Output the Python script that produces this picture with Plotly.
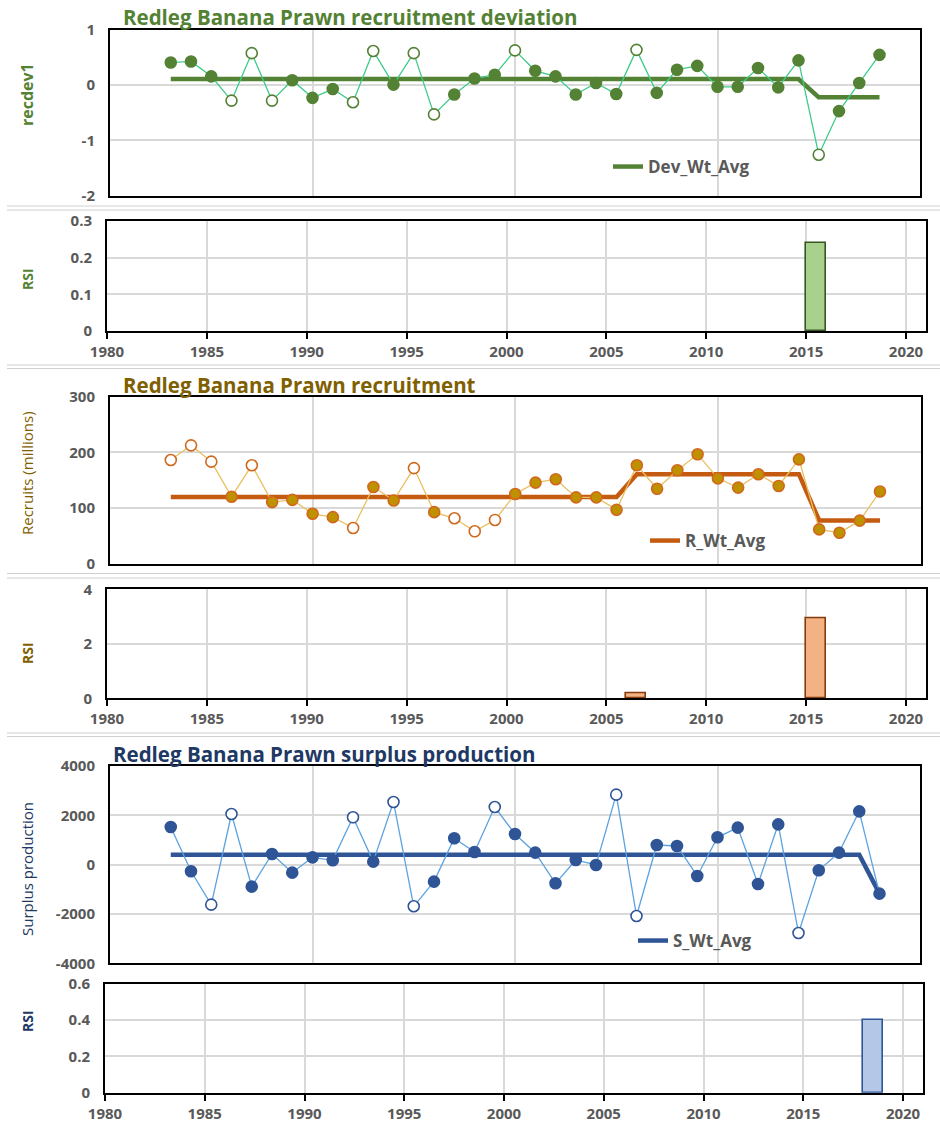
import plotly.graph_objects as go

W, H = 940, 1122

# ---------------- data ----------------
years = list(range(1983, 2019))

recdev1 = [0.41, 0.43, 0.16, -0.28, 0.58, -0.28, 0.09, -0.23, -0.07, -0.31, 0.62, 0.01,
           0.58, -0.53, -0.17, 0.12, 0.19, 0.63, 0.26, 0.16, -0.17, 0.04, -0.16, 0.64,
           -0.14, 0.28, 0.35, -0.03, -0.03, 0.31, -0.04, 0.45, -1.26, -0.47, 0.04, 0.55]
recdev_open = [1986, 1987, 1988, 1992, 1993, 1995, 1996, 2000, 2006, 2015]
dev_avg_years = [1983, 2014, 2015, 2018]
dev_avg_vals = [0.11, 0.11, -0.22, -0.22]
dev_ticks = [-2, -1, 0, 1]
dev_ticklabels = ["-2", "-1", "0", "1"]

recruits = [186.5, 212.8, 183.5, 120.7, 177, 111, 115, 90, 84, 64.6, 138, 114,
            172, 93, 82, 58.6, 79, 125.5, 146, 152, 119.5, 119.5, 97.4, 177,
            135, 168, 196.7, 153.6, 137, 161, 140, 187.7, 62, 56, 77.7, 130]
recruits_open = [1983, 1984, 1985, 1987, 1992, 1995, 1997, 1998, 1999]
r_avg_years = [1983, 2005, 2006, 2014, 2015, 2018]
r_avg_vals = [120, 120, 161, 161, 78, 78]
rec_ticks = [0, 100, 200, 300]
rec_ticklabels = ["0", "100", "200", "300"]

surplus = [1527, -270, -1622, 2054, -892, 432, -324, 297, 176, 1919, 122, 2540,
           -1689, -689, 1068, 514, 2338, 1243, 486, -757, 189, -14, 2838, -2081,
           797, 757, -459, 1108, 1500, -784, 1635, -2770, -230, 486, 2162, -1176]
surplus_open = [1985, 1986, 1992, 1994, 1995, 1999, 2005, 2006, 2014]
s_avg_years = [1983, 2017, 2018]
s_avg_vals = [405, 405, -1176]
sp_ticks = [-4000, -2000, 0, 2000, 4000]
sp_ticklabels = ["-4000", "-2000", "0", "2000", "4000"]

rsi_dev_years = [2015]
rsi_dev = [0.24]
rsi_rec_years = [2006, 2015]
rsi_rec = [0.18, 2.95]
rsi_sp_years = [2018]
rsi_sp = [0.40]

bar_ticks = [1980, 1985, 1990, 1995, 2000, 2005, 2010, 2015, 2020]

# ---------------- styles ----------------
FONT = "Open Sans, Lato, sans-serif"
TICK_FONT = dict(family=FONT, size=15, color="#595959", weight="bold")
GRID = "#D9D9D9"

themes = {
    "dev": dict(title="#548235", fill="#548235", edge="#548235", thin="#3DCB8A",
                avg="#548235", bar="#A9D18E", baredge="#375623"),
    "rec": dict(title="#7F6000", fill="#BF9000", edge="#D0691E", thin="#E8C060",
                avg="#C55A11", bar="#F4B183", baredge="#843C0C"),
    "sp": dict(title="#203864", fill="#2F5597", edge="#2F5597", thin="#5BA3E0",
               avg="#2F5597", bar="#B4C7E7", baredge="#2F5597"),
}


def px_x(x):
    return x / W


def px_y(y):
    return 1 - y / H


def dom_y(top, bot):
    return [1 - bot / H, 1 - top / H]


fig = go.Figure()


def add_line_panel(n, vals, open_years, avg_x, avg_y, th, legend_name, legend_id, edge_all=False):
    xa = "x" if n == 1 else f"x{n}"
    ya = "y" if n == 1 else f"y{n}"
    fig.add_trace(go.Scatter(
        x=avg_x, y=avg_y, mode="lines", name=legend_name,
        line=dict(color=th["avg"], width=4.5), xaxis=xa, yaxis=ya,
        legend=legend_id, showlegend=True))
    fills = ["white" if yr in open_years else th["fill"] for yr in years]
    edges = [th["edge"] if (yr in open_years or edge_all) else th["fill"] for yr in years]
    fig.add_trace(go.Scatter(
        x=years, y=vals, mode="lines+markers", showlegend=False,
        line=dict(color=th["thin"], width=1.3),
        marker=dict(size=11, color=fills, line=dict(color=edges, width=1.6)),
        xaxis=xa, yaxis=ya))


def add_bar_panel(n, bx, bv, th):
    fig.add_trace(go.Bar(
        x=bx, y=bv, width=1, offset=0, showlegend=False,
        marker=dict(color=th["bar"], line=dict(color=th["baredge"], width=1.6)),
        xaxis=f"x{n}", yaxis=f"y{n}"))


add_line_panel(1, recdev1, recdev_open, dev_avg_years, dev_avg_vals, themes["dev"], "Dev_Wt_Avg", "legend")
add_bar_panel(2, rsi_dev_years, rsi_dev, themes["dev"])
add_line_panel(3, recruits, recruits_open, r_avg_years, r_avg_vals, themes["rec"], "R_Wt_Avg", "legend2",
               edge_all=True)
add_bar_panel(4, rsi_rec_years, rsi_rec, themes["rec"])
add_line_panel(5, surplus, surplus_open, s_avg_years, s_avg_vals, themes["sp"], "S_Wt_Avg", "legend3")
add_bar_panel(6, rsi_sp_years, rsi_sp, themes["sp"])

common_axis = dict(showline=True, linecolor="black", linewidth=2, mirror=True,
                   showgrid=True, gridcolor=GRID, gridwidth=1.5, zeroline=False,
                   tickfont=TICK_FONT, fixedrange=True, automargin=False)

layout = dict(width=W, height=H, autosize=False, template="none",
              margin=dict(l=0, r=0, t=0, b=0, pad=0),
              paper_bgcolor="white", plot_bgcolor="white",
              font=dict(family=FONT), bargap=0)

# panel geometry in px: top, bottom, left, right, y range, tick values, tick labels
line_panels = {1: (30, 195.5, 110, 920, [-2, 1], dev_ticks, dev_ticklabels),
               3: (396.7, 564, 110, 920.5, [0, 300], rec_ticks, rec_ticklabels),
               5: (766, 963.3, 110, 920, [-4000, 4000], sp_ticks, sp_ticklabels)}
bar_panels = {2: (221, 331, 107, 926, [0, 0.3], 0.1),
              4: (589.3, 698.3, 107, 926, [0, 4], 2),
              6: (984, 1092.7, 105, 923, [0, 0.6], 0.2)}

for n, (top, bot, left, right, yr, tv, tt) in line_panels.items():
    xk = "xaxis" if n == 1 else f"xaxis{n}"
    yk = "yaxis" if n == 1 else f"yaxis{n}"
    ya = "y" if n == 1 else f"y{n}"
    xa = "x" if n == 1 else f"x{n}"
    layout[xk] = dict(common_axis, domain=[px_x(left), px_x(right)], range=[1980, 2020],
                      tick0=1980, dtick=10, showticklabels=False, ticks="", anchor=ya)
    layout[yk] = dict(common_axis, domain=dom_y(top, bot), range=yr, tickvals=tv, ticktext=tt,
                      ticks="", ticklabelstandoff=10, anchor=xa)

for n, (top, bot, left, right, yr, dt) in bar_panels.items():
    layout[f"xaxis{n}"] = dict(common_axis, domain=[px_x(left), px_x(right)], range=[1980, 2021],
                               tickvals=bar_ticks, ticks="outside", ticklen=6, tickwidth=1.5,
                               tickcolor="black", anchor=f"y{n}")
    layout[f"yaxis{n}"] = dict(common_axis, domain=dom_y(top, bot), range=yr, tick0=0, dtick=dt,
                               ticks="", ticklabelstandoff=10, anchor=f"x{n}")

leg_font = dict(family=FONT, size=17, color="#595959", weight="bold")
layout["legend"] = dict(x=px_x(608), y=px_y(167), xanchor="left", yanchor="middle",
                        font=leg_font, bgcolor="rgba(0,0,0,0)")
layout["legend2"] = dict(x=px_x(645), y=px_y(541), xanchor="left", yanchor="middle",
                         font=leg_font, bgcolor="rgba(0,0,0,0)")
layout["legend3"] = dict(x=px_x(633), y=px_y(941), xanchor="left", yanchor="middle",
                         font=leg_font, bgcolor="rgba(0,0,0,0)")

annotations = []
titles = [("Redleg Banana Prawn recruitment deviation", 121, 17, themes["dev"]["title"]),
          ("Redleg Banana Prawn recruitment", 121, 385, themes["rec"]["title"]),
          ("Redleg Banana Prawn surplus production", 111, 754, themes["sp"]["title"])]
for txt, x, y, c in titles:
    annotations.append(dict(text=txt, x=px_x(x), y=px_y(y), xref="paper", yref="paper",
                            xanchor="left", yanchor="middle", showarrow=False,
                            font=dict(family=FONT, size=20.5, color=c, weight="bold")))

ytitles = [("recdev1", 95, themes["dev"]["title"], "bold", 16),
           ("RSI", 279, themes["dev"]["title"], "bold", 14),
           ("Recruits (millions)", 473, themes["rec"]["title"], "normal", 15),
           ("RSI", 653, themes["rec"]["title"], "bold", 14),
           ("Surplus production", 869, themes["sp"]["title"], "normal", 15),
           ("RSI", 1021, themes["sp"]["title"], "bold", 14)]
for txt, y, c, w, s in ytitles:
    annotations.append(dict(text=txt, x=px_x(27), y=px_y(y), xref="paper", yref="paper",
                            xanchor="center", yanchor="middle", showarrow=False, textangle=-90,
                            font=dict(family=FONT, size=s, color=c, weight=w)))
layout["annotations"] = annotations

shapes = []
for y in [206, 210, 365, 368.5, 573.5, 578, 733, 736.5]:
    shapes.append(dict(type="line", xref="paper", yref="paper", x0=px_x(7), x1=1,
                       y0=px_y(y), y1=px_y(y), line=dict(color="#D0D0D0", width=1)))
layout["shapes"] = shapes

fig.update_layout(**layout)
fig.write_html("out.html")
